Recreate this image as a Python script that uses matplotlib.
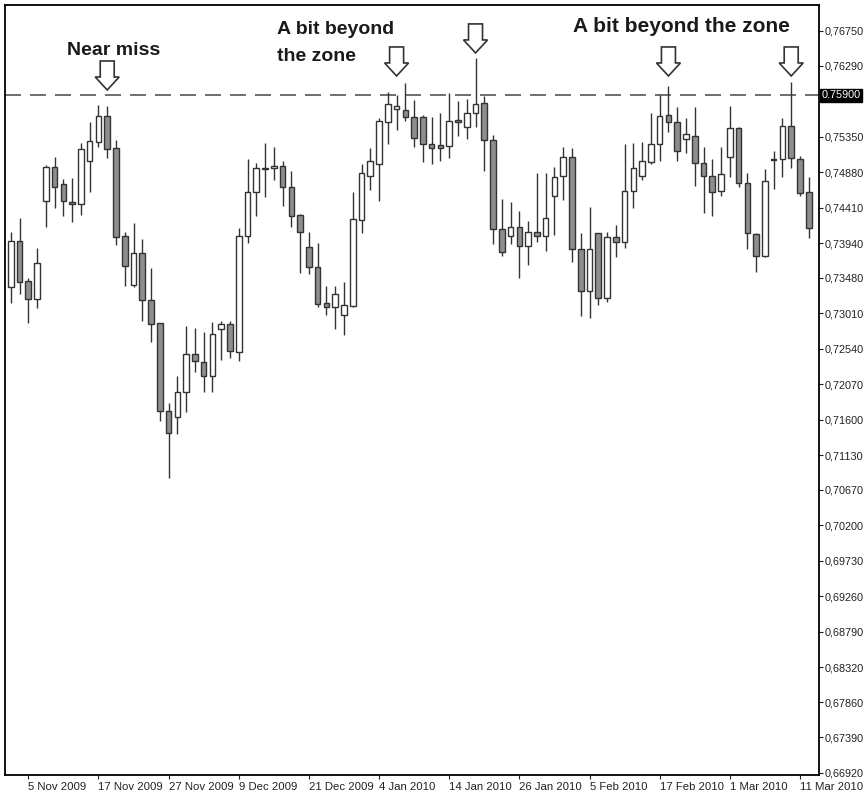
import matplotlib
matplotlib.use("Agg")
import matplotlib.pyplot as plt
import matplotlib.transforms as mtransforms
from matplotlib.patches import Polygon

plt.rcParams['font.family'] = ['Liberation Sans', 'DejaVu Sans']
plt.rcParams['lines.scale_dashes'] = False

# ---------------- data (daily candles) ----------------
opens = [0.73362, 0.73972, 0.73438, 0.73195, 0.74502, 0.74952, 0.74719, 0.74484, 0.74454, 0.75028,
         0.75283, 0.75624, 0.75204, 0.74034, 0.73385, 0.73813, 0.73186, 0.72877, 0.71715, 0.71632,
         0.71963, 0.72467, 0.72369, 0.72179, 0.72802, 0.72864, 0.72493, 0.74034, 0.74613, 0.74939,
         0.74939, 0.74965, 0.74679, 0.74312, 0.73884, 0.73619, 0.73142, 0.73089, 0.72987, 0.73107,
         0.74246, 0.74833, 0.74984, 0.75548, 0.75717, 0.75703, 0.75615, 0.75611, 0.75249, 0.75240,
         0.75226, 0.75571, 0.75482, 0.75660, 0.75792, 0.75306, 0.74123, 0.74038, 0.74149, 0.73902,
         0.74091, 0.74034, 0.74568, 0.74833, 0.75085, 0.73858, 0.73305, 0.74070, 0.73209, 0.74017,
         0.73958, 0.74630, 0.74833, 0.75018, 0.75249, 0.75637, 0.75548, 0.75315, 0.75363, 0.74997,
         0.74833, 0.74630, 0.75085, 0.75469, 0.74732, 0.74061, 0.73769, 0.75054, 0.75054, 0.75495,
         0.75054, 0.74621]
highs = [0.74091, 0.74268, 0.73474, 0.73871, 0.74975, 0.75085, 0.74785, 0.74806, 0.75262, 0.75540,
         0.75770, 0.75756, 0.75306, 0.74091, 0.74210, 0.73990, 0.73606, 0.72880, 0.71817, 0.72179,
         0.72846, 0.72811, 0.72758, 0.72891, 0.72912, 0.72912, 0.74136, 0.75054, 0.74997, 0.75262,
         0.75217, 0.75032, 0.74899, 0.74322, 0.74091, 0.73937, 0.73376, 0.73376, 0.73421, 0.74621,
         0.74988, 0.75204, 0.75593, 0.75946, 0.75902, 0.76065, 0.75836, 0.75637, 0.75615, 0.75660,
         0.75925, 0.75827, 0.75849, 0.76392, 0.75893, 0.75372, 0.74520, 0.74488, 0.74365, 0.74237,
         0.74873, 0.74873, 0.74944, 0.75217, 0.75196, 0.74070, 0.74422, 0.74078, 0.74091, 0.74180,
         0.75249, 0.75262, 0.75275, 0.75660, 0.75902, 0.76021, 0.75747, 0.75601, 0.75747, 0.75217,
         0.75054, 0.75217, 0.75760, 0.75472, 0.74865, 0.74080, 0.74918, 0.75164, 0.75601, 0.76070,
         0.75098, 0.74812]
lows = [0.73150, 0.73266, 0.72877, 0.73076, 0.74157, 0.74409, 0.74303, 0.74215, 0.74312, 0.74613,
        0.75217, 0.75063, 0.73915, 0.73371, 0.73354, 0.72908, 0.72626, 0.71587, 0.70824, 0.71411,
        0.71698, 0.72236, 0.71963, 0.71963, 0.72391, 0.72422, 0.72378, 0.73937, 0.74303, 0.74555,
        0.74776, 0.74435, 0.74157, 0.73548, 0.73531, 0.73089, 0.72987, 0.72798, 0.72722, 0.73089,
        0.74070, 0.74643, 0.74498, 0.75249, 0.75438, 0.75562, 0.75217, 0.75018, 0.74984, 0.75028,
        0.75071, 0.75359, 0.75315, 0.75482, 0.74895, 0.73928, 0.73769, 0.73928, 0.73474, 0.73650,
        0.73958, 0.73839, 0.74047, 0.74511, 0.73693, 0.72974, 0.72944, 0.73120, 0.73156, 0.73760,
        0.73871, 0.74409, 0.74776, 0.74988, 0.75028, 0.75408, 0.75028, 0.75138, 0.74696, 0.74335,
        0.74299, 0.74568, 0.74820, 0.74687, 0.73858, 0.73561, 0.73760, 0.74657, 0.74820, 0.74939,
        0.74564, 0.74004]
closes = [0.73972, 0.73421, 0.73195, 0.73680, 0.74952, 0.74687, 0.74502, 0.74458, 0.75187, 0.75293,
          0.75628, 0.75187, 0.74017, 0.73640, 0.73813, 0.73186, 0.72864, 0.71715, 0.71428, 0.71971,
          0.72467, 0.72378, 0.72179, 0.72732, 0.72864, 0.72514, 0.74034, 0.74613, 0.74939, 0.74922,
          0.74965, 0.74679, 0.74303, 0.74083, 0.73619, 0.73133, 0.73089, 0.73262, 0.73120, 0.74255,
          0.74865, 0.75032, 0.75558, 0.75779, 0.75760, 0.75615, 0.75336, 0.75249, 0.75204, 0.75196,
          0.75558, 0.75548, 0.75660, 0.75779, 0.75306, 0.74123, 0.73826, 0.74149, 0.73902, 0.74091,
          0.74034, 0.74268, 0.74812, 0.75085, 0.73858, 0.73305, 0.73858, 0.73209, 0.74017, 0.73958,
          0.74630, 0.74939, 0.75028, 0.75249, 0.75628, 0.75548, 0.75160, 0.75381, 0.74997, 0.74833,
          0.74613, 0.74855, 0.75469, 0.74732, 0.74078, 0.73769, 0.74763, 0.75041, 0.75495, 0.75071,
          0.74600, 0.74136]

date_labels = ["5 Nov 2009", "17 Nov 2009", "27 Nov 2009", "9 Dec 2009", "21 Dec 2009",
               "4 Jan 2010", "14 Jan 2010", "26 Jan 2010", "5 Feb 2010", "17 Feb 2010",
               "1 Mar 2010", "11 Mar 2010"]
date_label_bars = [2, 10, 18, 26, 34, 42, 50, 58, 66, 74, 82, 90]

price_ticks = [0.76750, 0.76290, 0.75350, 0.74880, 0.74410, 0.73940, 0.73480, 0.73010,
               0.72540, 0.72070, 0.71600, 0.71130, 0.70670, 0.70200, 0.69730, 0.69260,
               0.68790, 0.68320, 0.67860, 0.67390, 0.66920]
price_tick_labels = ["0,76750", "0,76290", "0,75350", "0,74880", "0,74410", "0,73940",
                     "0,73480", "0,73010", "0,72540", "0,72070", "0,71600", "0,71130",
                     "0,70670", "0,70200", "0,69730", "0,69260", "0,68790", "0,68320",
                     "0,67860", "0,67390", "0,66920"]

zone_level = 0.75900
zone_label = "0.75900"

arrow_bars = [11, 44, 53, 75, 89]
arrow_tip_prices = [0.75968, 0.76154, 0.76459, 0.76154, 0.76154]

# ---------------- figure ----------------
W, H = 865, 795
fig = plt.figure(figsize=(W / 100, H / 100), dpi=100)
ax = fig.add_axes([5 / W, 20 / H, 814 / W, 770 / H])
ax.set_xlim(-0.657, 92.17)
ax.set_ylim(0.66893, 0.77094)

n = len(opens)
xs = list(range(n))
edge = '#333333'
bear = '#8e8e8e'

ax.vlines(xs, lows, highs, color=edge, lw=1.0, zorder=2)
bottoms = [min(o, c) for o, c in zip(opens, closes)]
heights = [max(abs(c - o), 0.00004) for o, c in zip(opens, closes)]
colors = ['white' if c > o else bear for o, c in zip(opens, closes)]
ax.bar(xs, heights, bottom=bottoms, width=0.64, color=colors, edgecolor=edge,
       linewidth=1.0, zorder=3)

# zone line
ax.axhline(zone_level, color='#555555', lw=1.2, dashes=(11.5, 6.5), zorder=1)

# axes styling
for s in ax.spines.values():
    s.set_linewidth(1.3)
    s.set_color('black')
ax.yaxis.tick_right()
ax.set_yticks(price_ticks)
ax.set_yticklabels(price_tick_labels)
ax.set_xticks(date_label_bars)
ax.set_xticklabels(date_labels, ha='left')
ax.tick_params(axis='y', direction='out', length=3, width=0.8, pad=1,
               labelsize=7.8, labelcolor='#222222', colors='#222222')
ax.tick_params(axis='x', direction='out', length=3, width=0.8, pad=2,
               labelsize=8.2, labelcolor='#222222', colors='#222222')

# current zone label box
ax.text(1.003, zone_level, zone_label, transform=ax.get_yaxis_transform(),
        ha='left', va='center', fontsize=7.8, color='white',
        bbox=dict(facecolor='black', edgecolor='black', pad=1.2), clip_on=False)

# hollow down arrows
arrow_px = [(-7, 29), (7, 29), (7, 13), (12, 13), (0, 0), (-12, 13), (-7, 13)]
arrow_in = [(px / 100, py / 100) for px, py in arrow_px]
for b, p in zip(arrow_bars, arrow_tip_prices):
    tr = fig.dpi_scale_trans + mtransforms.ScaledTranslation(b, p, ax.transData)
    poly = Polygon(arrow_in, closed=True, facecolor='white', edgecolor='#333333',
                   lw=1.2, transform=tr, zorder=5, clip_on=False)
    ax.add_patch(poly)

# annotations (figure pixel positions)
def ftext(x, y, s, size):
    fig.text(x / W, 1 - y / H, s, fontsize=size, fontweight='bold', color='#1a1a1a',
             ha='left', va='baseline')

ftext(67, 55, "Near miss", 14)
ftext(277, 34, "A bit beyond", 14)
ftext(277, 61, "the zone", 14)
ftext(573, 32, "A bit beyond the zone", 15)

fig.savefig("out.png", dpi=100)
